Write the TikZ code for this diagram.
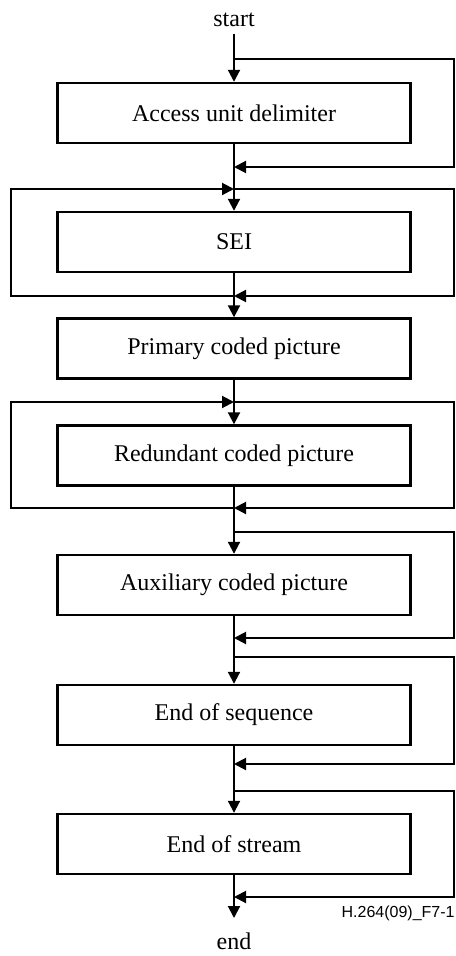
\documentclass[tikz,border=0pt]{standalone}
\usepackage{fontspec}
\setmainfont{Liberation Serif}
\newfontfamily\figlabelfont{Liberation Sans}
\usetikzlibrary{arrows.meta}

\tikzset{
	unitbox/.style={draw, line width=1.2pt, minimum width=176.5pt, minimum height=30pt, inner sep=0pt, font=\fontsize{12}{14}\selectfont},
	endlabel/.style={font=\fontsize{12}{14}\selectfont},
	flow/.style={line width=1pt, line join=miter},
	flowarrow/.style={flow, -{Triangle[length=6pt, width=6pt]}},
}

\begin{document}
\begin{tikzpicture}[x=0.5pt, y=-0.5pt]
			%%%%% START %%%%%
			\useasboundingbox (0,0) rectangle (455,956);
			
			\coordinate (L) at (11, 0);
			\coordinate (R) at (454, 0);
			
			\node[endlabel] (start) at (234, 20) {start};
			
			\node[unitbox] (aud) at (234, 113) {Access unit delimiter};
			\node[unitbox] (sei) at (234, 242) {SEI};
			\node[unitbox] (pcp) at (234, 348.5) {Primary coded picture};
			\node[unitbox] (rcp) at (234, 455.5) {Redundant coded picture};
			\node[unitbox] (acp) at (234, 585) {Auxiliary coded picture};
			\node[unitbox] (eoseq) at (234, 715) {End of sequence};
			\node[unitbox] (eostr) at (234, 844) {End of stream};
			
			\coordinate (j1) at (234, 59);
			\coordinate (j2) at (234, 167);
			\coordinate (j3) at (234, 189);
			\coordinate (j4) at (234, 296);
			\coordinate (j5) at (234, 402);
			\coordinate (j6) at (234, 508);
			\coordinate (j7) at (234, 532);
			\coordinate (j8) at (234, 638);
			\coordinate (j9) at (234, 657);
			\coordinate (j10) at (234, 764);
			\coordinate (j11) at (234, 791);
			\coordinate (j12) at (234, 897);
			\coordinate (stop) at (234, 918);
			
			\node[endlabel] (end) at (234, 941) {end};
			\node[font=\figlabelfont\fontsize{8}{9}\selectfont, anchor=east, inner sep=0pt] (figno) at (455, 913) {H.264(09)\_F7-1};
			
			% main line
			\draw[flowarrow] (start.south) -- (aud.north);
			\draw[flowarrow] (aud.south) -- (sei.north);
			\draw[flowarrow] (sei.south) -- (pcp.north);
			\draw[flowarrow] (pcp.south) -- (rcp.north);
			\draw[flowarrow] (rcp.south) -- (acp.north);
			\draw[flowarrow] (acp.south) -- (eoseq.north);
			\draw[flowarrow] (eoseq.south) -- (eostr.north);
			\draw[flowarrow] (eostr.south) -- (stop);
			
			% bypasses on the right
			\draw[flowarrow] (j1) -- (j1 -| R) -- (j2 -| R) -- (j2);
			\draw[flowarrow] (j3) -- (j3 -| R) -- (j4 -| R) -- (j4);
			\draw[flowarrow] (j5) -- (j5 -| R) -- (j6 -| R) -- (j6);
			\draw[flowarrow] (j7) -- (j7 -| R) -- (j8 -| R) -- (j8);
			\draw[flowarrow] (j9) -- (j9 -| R) -- (j10 -| R) -- (j10);
			\draw[flowarrow] (j11) -- (j11 -| R) -- (j12 -| R) -- (j12);
			
			% repeat loops on the left
			\draw[flowarrow] (j4) -- (j4 -| L) -- (j3 -| L) -- (j3);
			\draw[flowarrow] (j6) -- (j6 -| L) -- (j5 -| L) -- (j5);
			
			%%%%% END %%%%%
\end{tikzpicture}
\end{document}
